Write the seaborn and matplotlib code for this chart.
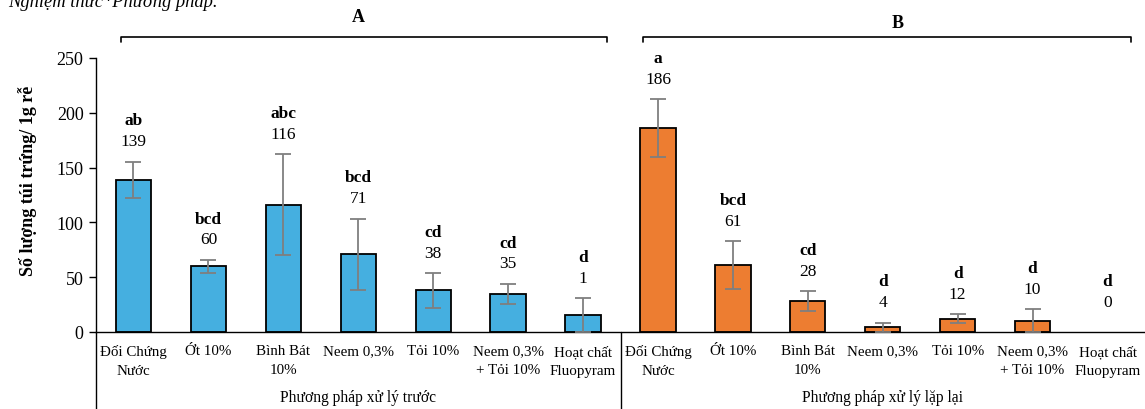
import numpy as np
import pandas as pd
import matplotlib
matplotlib.use("Agg")
import matplotlib.pyplot as plt
import matplotlib.transforms as mtrans
from matplotlib.lines import Line2D
import seaborn as sns

# ---------------- data ----------------
categories = ["Đối Chứng\nNước", "Ớt 10%", "Bình Bát\n10%", "Neem 0,3%",
              "Tỏi 10%", "Neem 0,3%\n+ Tỏi 10%", "Hoạt chất\nFluopyram"]
groups = ["Phương pháp xử lý trước", "Phương pháp xử lý lặp lại"]
values_A = [139, 60, 116, 71, 38, 35, 15.5]
err_A = [16.5, 6, 46, 32.5, 16, 9, 15.5]
values_B = [186, 61, 28, 4.3, 12.2, 10.3, 0]
err_B = [26.5, 22, 9, 4.2, 4.4, 10.4, 0]
letters_A = ["ab", "bcd", "abc", "bcd", "cd", "cd", "d"]
numbers_A = ["139", "60", "116", "71", "38", "35", "1"]
letters_B = ["a", "bcd", "cd", "d", "d", "d", "d"]
numbers_B = ["186", "61", "28", "4", "12", "10", "0"]
panel_titles = ["A", "B"]
ylabel = "Số lượng túi trứng/ 1g rễ"
note = "Nghiệm thức*Phương pháp."
yticks = [0, 50, 100, 150, 200, 250]

colors = ["#45AFE0", "#ED7D31"]

rows = []
for g, vals, errs, lets, nums in [(groups[0], values_A, err_A, letters_A, numbers_A),
                                  (groups[1], values_B, err_B, letters_B, numbers_B)]:
    for i, c in enumerate(categories):
        rows.append(dict(key=f"{g}|{i}", cat=c, group=g, value=vals[i], err=errs[i],
                         letter=lets[i], number=nums[i]))
df = pd.DataFrame(rows)

# ---------------- style ----------------
sns.set_theme(style="white")
plt.rcParams["font.family"] = ["Liberation Serif", "DejaVu Serif"]
plt.rcParams["text.color"] = "black"

W, H = 1145, 410
fig = plt.figure(figsize=(W / 100, H / 100), dpi=100)
ax = fig.add_axes([96 / W, (H - 333) / H, 1 - 96 / W, (333 - 59) / H])

sns.barplot(data=df, x="key", y="value", hue="group", order=list(df["key"]),
            hue_order=groups, palette=colors, saturation=1, dodge=False, width=0.47,
            edgecolor="black", linewidth=1.3, errorbar=None, legend=False, ax=ax)
for p in ax.patches:
    if p.get_height() == 0:
        p.set_visible(False)

pos = np.arange(len(df))
mask = df["err"].values > 0
ax.errorbar(pos[mask], df["value"].values[mask], yerr=df["err"].values[mask],
            fmt="none", ecolor="#7F7F7F", elinewidth=1.3, capsize=6, capthick=1.3,
            zorder=5)

ax.set_xlim(-0.5, len(df) - 0.5)
ax.set_ylim(0, 250)
ax.set_yticks(yticks)
ax.set_yticklabels([str(t) for t in yticks], fontsize=13)
ax.set_xticks(pos)
ax.set_xticklabels(list(df["cat"]), fontsize=10.8)
for lab in ax.get_xticklabels():
    lab.set_linespacing(1.55)
ax.tick_params(axis="x", length=0, pad=9, colors="black")
ax.tick_params(axis="y", direction="out", length=5, width=1, colors="black", left=True, pad=4)
ax.set_xlabel("")
ax.set_ylabel("")
for s in ["top", "right"]:
    ax.spines[s].set_visible(False)
for s in ["left", "bottom"]:
    ax.spines[s].set_color("black")
    ax.spines[s].set_linewidth(1.0)

# value labels
for i, r in df.iterrows():
    top = max(r["value"] + r["err"], 9)
    ax.text(i, top + 18.5, r["number"], ha="center", va="center", fontsize=12.5)
    ax.text(i, top + 37.5, r["letter"], ha="center", va="center", fontsize=12.5,
            fontweight="bold")

# y label
fig.text(28 / W, 1 - 181 / H, ylabel, rotation=90, ha="center", va="center",
         fontsize=13, fontweight="bold")

# group labels
tr = mtrans.blended_transform_factory(ax.transData, fig.transFigure)
n = len(categories)
for gi, g in enumerate(groups):
    ax.text(gi * n + (n - 1) / 2, 1 - 398 / H, g, transform=tr, ha="center",
            va="center", fontsize=11.2)

# extended axis lines (multi-level category separators)
for xx in [96, 621]:
    fig.add_artist(Line2D([xx / W, xx / W], [1 - 333 / H, 0], color="black", lw=1.0))

# brackets
for (xa, xb) in [(121, 607), (643, 1131)]:
    xs = [xa, xa, xb, xb]
    ys = [43, 38, 38, 43]
    fig.add_artist(Line2D([x / W for x in xs], [1 - y / H for y in ys],
                          color="black", lw=1.2))
for t, (xx, yy) in zip(panel_titles, [(358, 17), (898, 23)]):
    fig.text(xx / W, 1 - yy / H, t, ha="center", va="center", fontsize=13,
             fontweight="bold")

# cut-off note at top left (partly outside the picture, as in the reference)
fig.text(8 / W, 1 - 7 / H, note, ha="left", va="baseline", fontsize=13.3,
         style="italic")

fig.savefig("out.png", dpi=100)
